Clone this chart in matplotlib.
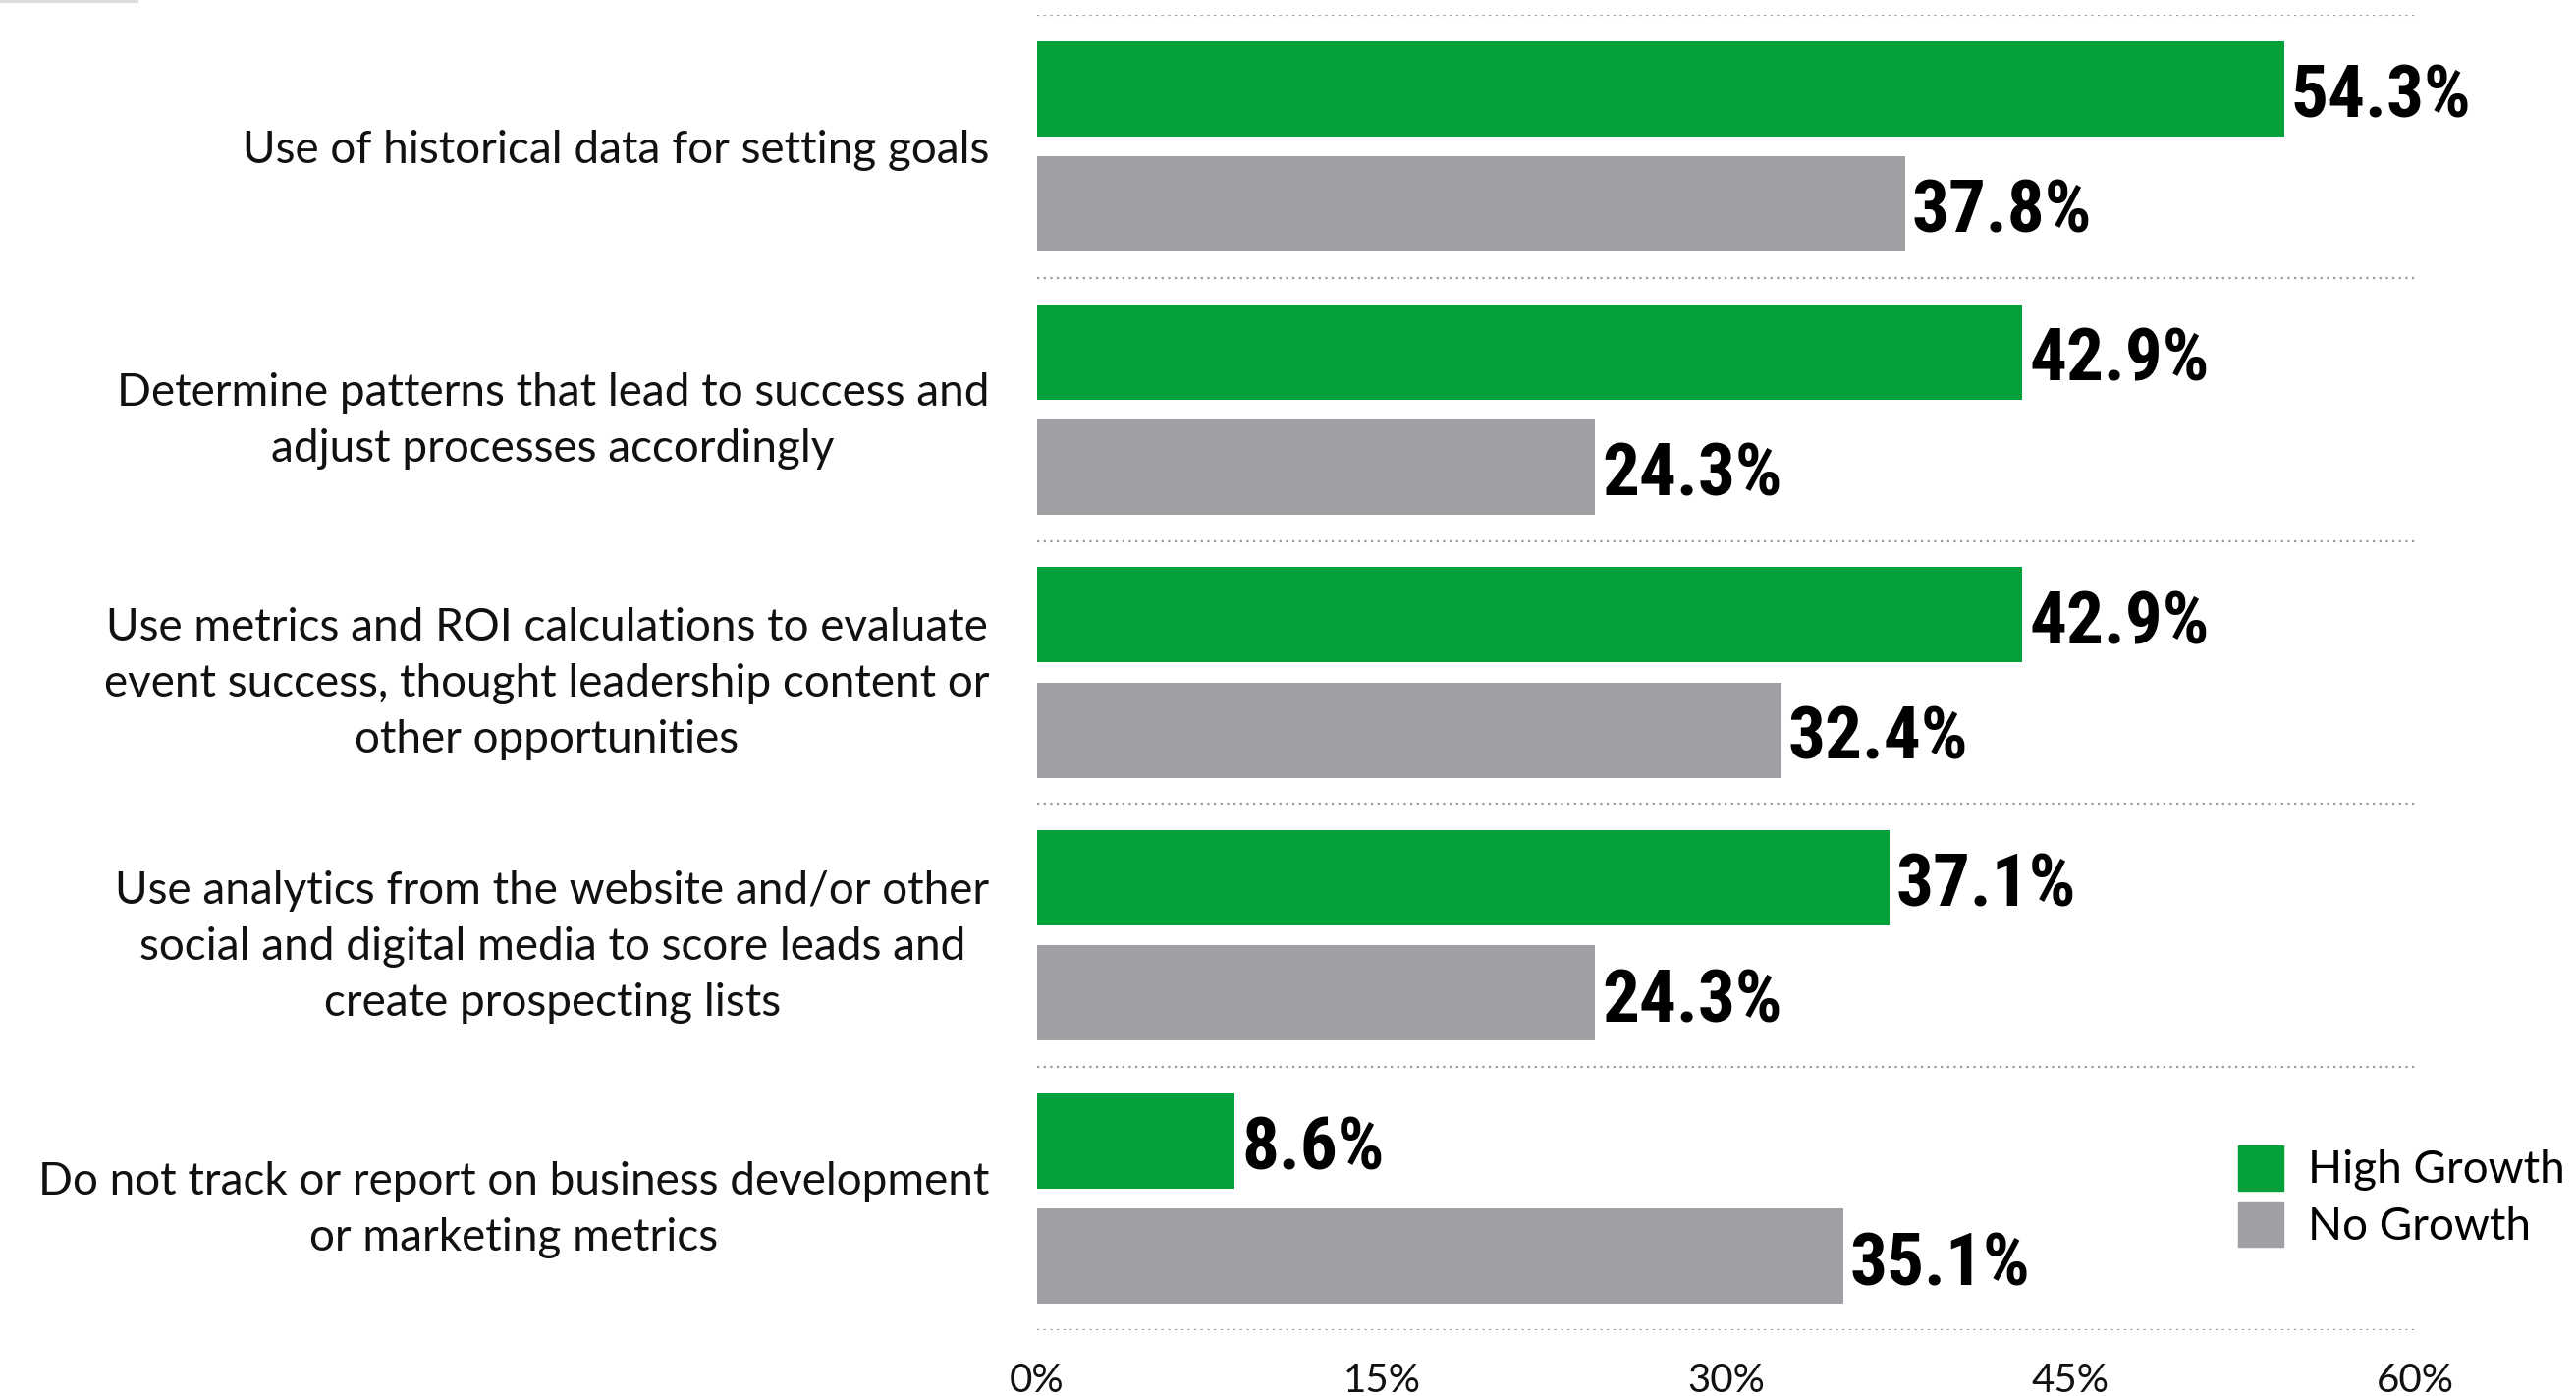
import matplotlib.pyplot as plt
import numpy as np
from matplotlib.lines import Line2D
from matplotlib.patches import Patch

categories = [
    "Use of historical data for setting goals",
    "Determine patterns that lead to success and\nadjust processes accordingly",
    "Use metrics and ROI calculations to evaluate\nevent success, thought leadership content or\nother opportunities",
    "Use analytics from the website and/or other\nsocial and digital media to score leads and\ncreate prospecting lists",
    "Do not track or report on business development\nor marketing metrics",
]
high_growth = [54.3, 42.9, 42.9, 37.1, 8.6]
no_growth = [37.8, 24.3, 32.4, 24.3, 35.1]
series_names = ["High Growth", "No Growth"]
xticks = [0, 15, 30, 45, 60]

GREEN = "#04a03a"
GREY = "#9fa0a4"

plt.rcParams["font.family"] = ["Lato", "DejaVu Sans"]

fig = plt.figure(figsize=(26.23, 14.21), dpi=100)
ax = fig.add_axes([0.4026, 0.0472, 0.5349, 0.9422])

y = np.arange(len(categories))
offset = 0.219
height = 0.3625
ax.barh(y - offset, high_growth, height=height, color=GREEN)
ax.barh(y + offset, no_growth, height=height, color=GREY)

# value labels sit a touch below the bar centre
value_font = dict(family=["Roboto Condensed", "Liberation Sans Narrow", "Liberation Sans"],
                  fontstretch="condensed", fontweight="bold", fontsize=54)
nudge = 0.035
for yi, v in zip(y, high_growth):
    ax.text(v + 0.3, yi - offset + nudge, f"{v}%", va="center", ha="left", **value_font)
for yi, v in zip(y, no_growth):
    ax.text(v + 0.3, yi + offset + nudge, f"{v}%", va="center", ha="left", **value_font)

# dotted separators between the groups
for b in np.arange(-0.5, len(categories), 1.0):
    ax.axhline(b, color="#9a9a9a", lw=1.6, ls=(0, (1, 2)))

ax.set_xlim(0, 60)
ax.set_ylim(len(categories) - 0.5, -0.5)
ax.set_xticks(xticks)
ax.set_xticklabels([f"{t}%" for t in xticks], fontsize=29)
ax.set_yticks(y)
ax.set_yticklabels(categories, fontsize=33, multialignment="center",
                   linespacing=1.45)
ax.tick_params(axis="both", length=0, labelcolor="#111111")
ax.tick_params(axis="y", pad=35)
ax.tick_params(axis="x", pad=24)
for s in ax.spines.values():
    s.set_visible(False)

handles = [Patch(color=GREEN), Patch(color=GREY)]
fig.legend(handles, series_names, loc="upper left",
           bbox_to_anchor=(0.8689, 0.1794), frameon=False, borderpad=0,
           borderaxespad=0, handlelength=1.0, handleheight=1.15,
           handletextpad=0.55, labelspacing=0.25,
           prop=dict(family="Lato", size=33))

fig.add_artist(Line2D([0, 0.053], [0.999, 0.999], color="#dddddd", lw=3))

fig.savefig("out.png", dpi=100)
